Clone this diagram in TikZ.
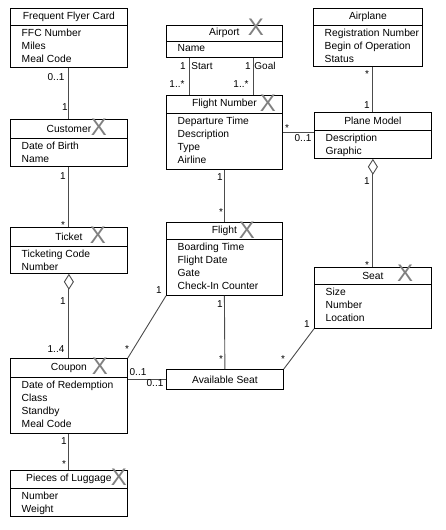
\documentclass[tikz,border=0pt]{standalone}
\usepackage{fontspec}
\setmainfont{Liberation Sans}
\usetikzlibrary{arrows.meta,calc}

\tikzset{
  box/.style={draw=black, line width=0.8pt, inner sep=0pt},
  divider/.style={draw=black, line width=0.8pt},
  ctitle/.style={font=\fontsize{10.3}{12}\selectfont, inner sep=0pt},
  attrs/.style={font=\fontsize{10.3}{13.2}\selectfont, align=left, inner sep=0pt, anchor=north west},
  conn/.style={draw=black!70, line width=0.9pt},
  agg/.style={conn, {Diamond[open, length=16pt, width=10pt, line width=0.9pt]}-},
  mult/.style={font=\fontsize{10}{12}\selectfont, inner sep=0pt},
  xmark/.style={font=\fontsize{24}{24}\selectfont, text=black!50, inner sep=0pt},
}

% #1 id, #2 left, #3 top, #4 width, #5 header height, #6 total height, #7 title, #8 attributes
\newcommand\umlclass[8]{%
  \node[box, anchor=north west, minimum width=#4pt, minimum height=#6pt] (#1) at (#2,#3) {};
  \draw[divider] ($(#1.north west)+(0,#5)$) -- ($(#1.north east)+(0,#5)$);
  \node[ctitle] (#1-t) at ($(#1.north)+(0,#5/2)$) {#7};
  \node[attrs] (#1-a) at ($(#1.north west)+(11.5,#5+3.7)$) {#8};
}

\begin{document}
\begin{tikzpicture}[x=1pt, y=-1pt]
\useasboundingbox (0,0) rectangle (446,530);

% classes
\umlclass{ffc}{10}{8}{117}{17}{59}{Frequent Flyer Card}{FFC Number\\Miles\\Meal Code}
\umlclass{cust}{10}{119}{117}{19}{47}{Customer}{Date of Birth\\Name}
\umlclass{ticket}{10}{227}{117}{19}{46}{Ticket}{Ticketing Code\\Number}
\umlclass{coupon}{10}{358}{117}{19}{75}{Coupon}{Date of Redemption\\Class\\Standby\\Meal Code}
\umlclass{lug}{10}{470}{117}{18}{46}{Pieces of Luggage}{Number\\Weight}
\umlclass{airport}{166}{25}{116}{16}{32}{Airport}{Name}
\umlclass{fn}{166}{95}{116}{18}{74}{Flight Number}{Departure Time\\Description\\Type\\Airline}
\umlclass{flight}{166}{222}{116}{17}{73}{Flight}{Boarding Time\\Flight Date\\Gate\\Check-In Counter}
\umlclass{airplane}{313}{8}{109}{17}{58}{Airplane}{Registration Number\\Begin of Operation\\Status}
\umlclass{pm}{314}{112}{117}{18}{46}{Plane Model}{Description\\Graphic}
\umlclass{seat}{314}{267}{117}{17}{61}{Seat}{Size\\Number\\Location}
\node[box, anchor=north west, minimum width=117pt, minimum height=20pt, font=\fontsize{10.3}{12}\selectfont] (avail) at (166,369) {Available Seat};

% cross marks
\node[xmark] (x1) at (256,27) {X};
\node[xmark] (x2) at (268,103) {X};
\node[xmark] (x3) at (99,127) {X};
\node[xmark] (x4) at (98,235) {X};
\node[xmark] (x5) at (247,230) {X};
\node[xmark] (x6) at (405,273) {X};
\node[xmark] (x7) at (100,366) {X};
\node[xmark] (x8) at (119,477) {X};

% connectors
\draw[conn] (ffc.south) -- (cust.north);
\draw[conn] (cust.south) -- (ticket.north);
\draw[agg] (ticket.south) -- (coupon.north);
\draw[conn] (coupon.south) -- (lug.north);
\coordinate (apS) at ($(airport.south west)!0.2!(airport.south east)$);
\coordinate (apG) at ($(airport.south west)!0.745!(airport.south east)$);
\draw[conn] (apS) -- (apS |- fn.north);
\draw[conn] (apG) -- (apG |- fn.north);
\draw[conn] (fn.east) -- (fn.east -| pm.west);
\draw[conn] (fn.south) -- (flight.north);
\draw[conn] (airplane.south -| pm.north) -- (pm.north);
\draw[agg] (pm.south) -- (seat.north);
\draw[conn] (flight.south) -- (avail.north);
\draw[conn] (flight.south west) -- (coupon.north east);
\draw[conn] (seat.south west) -- (avail.north east);
\draw[conn] (avail.west -| coupon.east) -- (avail.west);

% multiplicities and roles
\node[mult] (m1) at (56,77) {0..1};
\node[mult] (m2) at (65,107) {1};
\node[mult] (m3) at (63,176) {1};
\node[mult] (m4) at (63,225) {*};
\node[mult] (m5) at (63,301) {1};
\node[mult] (m6) at (56,349) {1..4};
\node[mult] (m7) at (64,441) {1};
\node[mult] (m8) at (64,464) {*};
\node[mult] (m9) at (183,66) {1};
\node[mult] (m10) at (202,66) {Start};
\node[mult] (m11) at (177,84) {1..*};
\node[mult] (m12) at (248,66) {1};
\node[mult] (m13) at (265,66) {Goal};
\node[mult] (m14) at (241,84) {1..*};
\node[mult] (m15) at (287,128) {*};
\node[mult] (m16) at (303,138) {0..1};
\node[mult] (m17) at (220,177) {1};
\node[mult] (m18) at (221,212) {*};
\node[mult] (m19) at (367,74) {*};
\node[mult] (m20) at (367,105) {1};
\node[mult] (m21) at (367,181) {1};
\node[mult] (m22) at (367,265) {*};
\node[mult] (m23) at (307,324) {1};
\node[mult] (m24) at (283,359) {*};
\node[mult] (m25) at (159,290) {1};
\node[mult] (m26) at (127,349) {*};
\node[mult] (m27) at (220,304) {1};
\node[mult] (m28) at (221,359) {*};
\node[mult] (m29) at (138,372) {0..1};
\node[mult] (m30) at (155,383) {0..1};
\end{tikzpicture}
\end{document}
